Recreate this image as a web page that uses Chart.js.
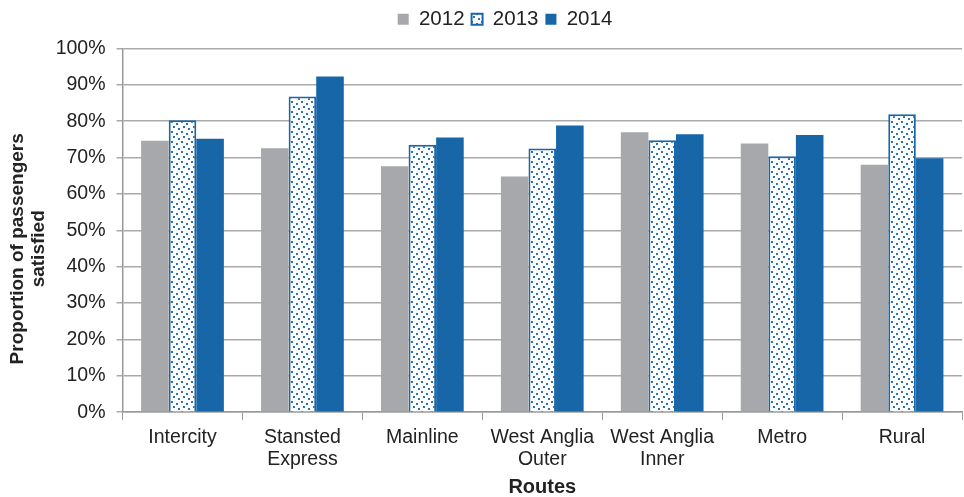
<!DOCTYPE html>
<html><head><meta charset="utf-8">
<script src="https://cdn.jsdelivr.net/npm/chart.js@4"></script>
<style>html,body{margin:0;padding:0;background:#fff}#w{width:964px;height:497px}</style>
</head><body><div id="w"><canvas id="c"></canvas></div>
<script>
const categories = [['Intercity'], ['Stansted','Express'], ['Mainline'], ['West Anglia','Outer'], ['West Anglia','Inner'], ['Metro'], ['Rural']];
const s2012 = [74.6, 72.6, 67.6, 64.8, 77.0, 73.9, 68.0];
const s2013 = [80.3, 86.8, 73.5, 72.5, 74.8, 70.4, 81.9];
const s2014 = [75.2, 92.3, 75.5, 78.8, 76.4, 76.2, 69.8];
const yTicks = [0,10,20,30,40,50,60,70,80,90,100];
const yTitle = ['Proportion of passengers', 'satisfied'];

function dots(){
  const p = document.createElement('canvas'); p.width = 10; p.height = 10;
  const g = p.getContext('2d');
  g.fillStyle = '#fff'; g.fillRect(0,0,10,10);
  g.fillStyle = '#2f72b2';
  [[1,1],[6,3],[3,6],[8,8]].forEach(([x,y])=>g.fillRect(x,y,2,2));
  return g.createPattern(p,'repeat');
}
const pat = dots();
const font = 'Liberation Sans, Arial, Helvetica, sans-serif';
const pad = '\u00A0'.repeat(7);
const legendMargin = {id:'legendMargin',
  beforeInit(chart){
    const fit = chart.legend.fit;
    chart.legend.fit = function(){ fit.bind(chart.legend)(); this.height += 9; };
  },
  afterLayout(chart){ chart.legend.left += 20; chart.legend.right += 20; }
};
new Chart(document.getElementById('c'), {
  type: 'bar',
  plugins:[legendMargin],
  data: {
    labels: categories,
    datasets: [
      {label:'2012', data:s2012, backgroundColor:'#a7a8ab', borderWidth:0},
      {label:'2013', data:s2013, backgroundColor:pat, borderColor:'#1a66a8', borderWidth:2},
      {label:'2014', data:s2014, backgroundColor:'#1666a8', borderWidth:0}
    ]
  },
  options: {
    responsive:true, maintainAspectRatio:false, animation:false,
    layout:{padding:{left:8,right:2,top:2,bottom:0}},
    datasets:{bar:{categoryPercentage:0.69, barPercentage:1}},
    plugins:{
      legend:{position:'top', labels:{font:{family:font,size:20.5}, color:'#222', boxWidth:11, boxHeight:11, padding:7}},
      tooltip:{enabled:false}
    },
    scales:{
      x:{
        grid:{offset:true, drawOnChartArea:false, color:'#999', tickLength:8, lineWidth:1},
        border:{color:'#999', width:1.5},
        ticks:{font:{family:font,size:19.5,lineHeight:1.15}, color:'#222', maxRotation:0, autoSkip:false, padding:6},
        title:{display:true, text:'Routes', font:{family:font,size:20,weight:'bold',lineHeight:1.0}, color:'#222', padding:{top:0,bottom:0}}
      },
      y:{
        min:0, max:100,
        afterBuildTicks: ax => { ax.ticks = yTicks.map(v=>({value:v})); },
        grid:{color:'#aaa', lineWidth:1.5, tickLength:6},
        border:{color:'#999', width:1.5},
        ticks:{font:{family:font,size:19.5}, color:'#222', padding:11, callback:v=>v+'%'},
        title:{display:true, text:yTitle.map(t=>t+pad), font:{family:font,size:19,weight:'bold', lineHeight:1.07}, color:'#222', padding:{top:0,bottom:-4}}
      }
    }
  }
});
</script></body></html>
